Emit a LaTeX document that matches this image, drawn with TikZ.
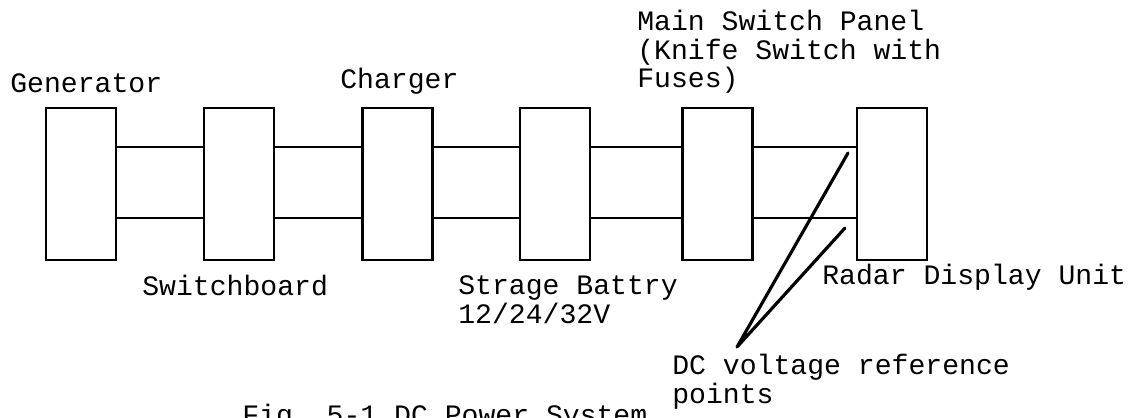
\documentclass[tikz,border=0pt]{standalone}
\usepackage{fontspec}
\setmonofont{Liberation Mono}
\tikzset{
  unit/.style={draw,line width=1.2pt,minimum width=14mm,minimum height=30.4mm,inner sep=0pt},
  wire/.style={line width=1.2pt},
  pointer/.style={line width=1.8pt,line cap=round},
  lbl/.style={font=\ttfamily\fontsize{16}{16.5}\selectfont,inner sep=0pt,align=left},
}
\begin{document}
\begin{tikzpicture}
  \useasboundingbox (0,0) rectangle (22.66,8.34);
  % units of the DC chain
  \node[unit] (gen) at (1.62,4.66) {};
  \node[unit] (swb) at (4.78,4.66) {};
  \node[unit] (chg) at (7.95,4.66) {};
  \node[unit] (bat) at (11.10,4.66) {};
  \node[unit] (msp) at (14.35,4.66) {};
  \node[unit] (rdu) at (17.84,4.66) {};
  \foreach \a/\b in {gen/swb,swb/chg,chg/bat,bat/msp,msp/rdu}{
    \draw[wire] ([yshift=7.4mm]\a.east) -- ([yshift=7.4mm]\b.west);
    \draw[wire] ([yshift=-6.8mm]\a.east) -- ([yshift=-6.8mm]\b.west);
  }
  % reference points
  \coordinate (ref) at (14.74,1.40);
  \coordinate (refup) at (16.96,5.28);
  \coordinate (reflo) at (16.90,3.78);
  \draw[pointer] (ref) -- (refup) (ref) -- (reflo);
  % labels (multi-line ones sit on their last line)
  \node[lbl,anchor=base west] (tgen) at (0.20,6.48) {Generator};
  \node[lbl,anchor=base west] (tchg) at (6.80,6.56) {Charger};
  \node[lbl,anchor=base west] (tmsp) at (12.74,6.58) {Main Switch Panel\\(Knife Switch with\\Fuses)};
  \node[lbl,anchor=base west] (tswb) at (2.84,2.44) {Switchboard};
  \node[lbl,anchor=base west] (tbat) at (9.16,1.88) {Strage Battry\\12/24/32V};
  \node[lbl,anchor=base west] (trdu) at (16.44,2.64) {Radar Display Unit};
  \node[lbl,anchor=base west] (tref) at (13.44,0.28) {DC voltage reference\\points};
  \node[lbl,anchor=base west] (cap) at (4.84,-0.14) {Fig. 5-1 DC Power System};
\end{tikzpicture}
\end{document}
